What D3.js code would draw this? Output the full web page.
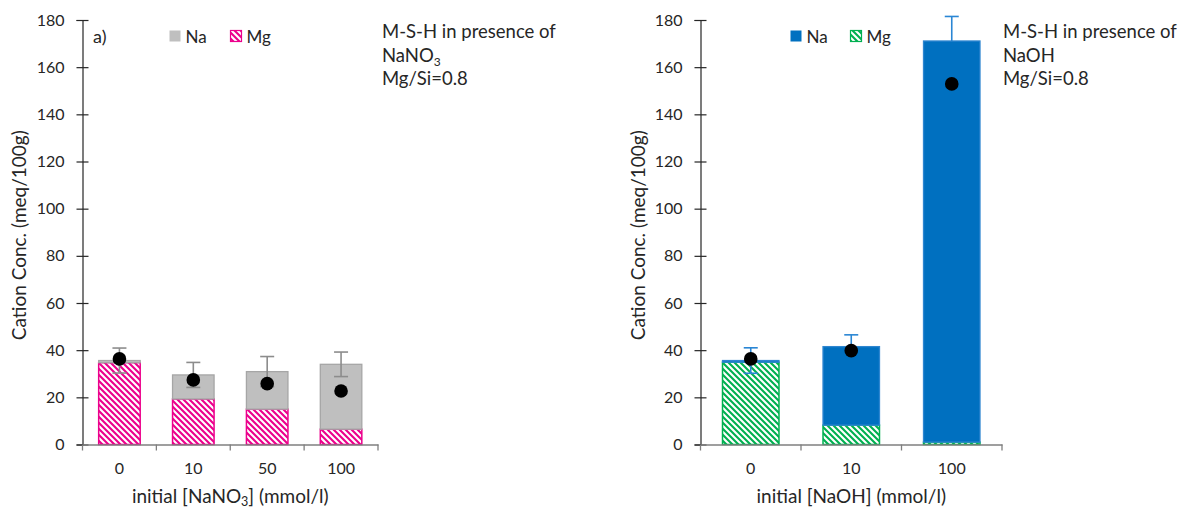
<!DOCTYPE html>
<html>
<head>
<meta charset="utf-8">
<script src="https://cdn.jsdelivr.net/npm/d3@7"></script>
<style>
  html, body { margin: 0; padding: 0; background: #fff; }
  svg { display: block; font-family: Lato, "Open Sans", sans-serif; }
</style>
</head>
<body>
<svg id="chart" width="1178" height="508"></svg>
<script>
// ---- Data ----
const yTicks = [0, 20, 40, 60, 80, 100, 120, 140, 160, 180];

// Panel a) NaNO3
const catsA = ["0", "10", "50", "100"];
const mgA = [34.7, 19.3, 15.0, 6.5];
const naA = [0.9, 10.2, 15.9, 27.5];
const errA = [5.3, 5.3, 6.4, 5.2];
const dotA = [36.3, 27.4, 25.8, 22.7];

// Panel b) NaOH
const catsB = ["0", "10", "100"];
const mgB = [34.9, 8.2, 1.0];
const naB = [0.7, 33.3, 170.1];
const errB = [5.4, 5.0, 10.4];
const dotB = [36.3, 39.8, 152.9];

const seriesNames = ["Na", "Mg"];

const svg = d3.select("#chart");
const defs = svg.append("defs");

function hatch(id, color) {
  const p = defs.append("pattern")
    .attr("id", id).attr("patternUnits", "userSpaceOnUse")
    .attr("width", 6).attr("height", 6);
  p.append("rect").attr("width", 6).attr("height", 6).attr("fill", "#fff");
  p.append("path")
    .attr("d", "M0,0 L6,6 M-3,3 L3,9 M3,-3 L9,3")
    .attr("stroke", color).attr("stroke-width", 2.1);
}
hatch("hatchPink", "#EC008C");
hatch("hatchGreen", "#00B050");

function drawPanel(cfg) {
  const g = svg.append("g");
  const y = d3.scaleLinear().domain([0, 180]).range([444.5, 20]);
  const x = d3.scaleBand().domain(cfg.cats).range([cfg.x0, cfg.x1])
    .paddingInner(0.438).paddingOuter(0.219);

  // Y axis
  const ya = g.append("g").attr("transform", `translate(${cfg.x0},0)`)
    .call(d3.axisLeft(y).tickValues(yTicks).tickSize(6).tickPadding(12));
  ya.select(".domain").attr("stroke", "#262626").attr("stroke-width", 1.2);
  ya.selectAll(".tick line").attr("x1", 6).attr("x2", -6).attr("stroke", "#262626").attr("stroke-width", 1.2);
  ya.selectAll(".tick text").attr("font-size", 16).attr("fill", "#262626")
    .attr("font-family", "Lato, sans-serif");

  const rows = cfg.cats.map((c, i) => ({ c, mg: cfg.mg[i], na: cfg.na[i], err: cfg.err[i], dot: cfg.dot[i] }));
  const bw = x.bandwidth();

  const barsG = g.append("g");
  const errG = g.append("g");
  const naG = cfg.errOnTop ? barsG : g.append("g");
  if (cfg.errOnTop) errG.raise();

  // Mg bars
  barsG.selectAll(".mg").data(rows).enter().append("rect")
    .attr("x", d => x(d.c)).attr("width", bw)
    .attr("y", d => y(d.mg)).attr("height", d => y(0) - y(d.mg))
    .attr("fill", cfg.mgFill).attr("stroke", cfg.mgStroke).attr("stroke-width", 1.5);
  // Na bars (stacked)
  naG.selectAll(".na").data(rows).enter().append("rect")
    .attr("x", d => x(d.c)).attr("width", bw)
    .attr("y", d => y(d.mg + d.na)).attr("height", d => y(d.mg) - y(d.mg + d.na))
    .attr("fill", cfg.naFill).attr("stroke", cfg.naStroke).attr("stroke-width", 1.3);

  // Error bars (around stacked total)
  const cap = 7;
  const eb = errG.selectAll(".err").data(rows).enter().append("g")
    .attr("stroke", cfg.errColor).attr("stroke-width", 1.6).attr("fill", "none");
  eb.append("line")
    .attr("x1", d => x(d.c) + bw / 2).attr("x2", d => x(d.c) + bw / 2)
    .attr("y1", d => y(d.mg + d.na + d.err)).attr("y2", d => y(d.mg + d.na - d.err));
  eb.append("line")
    .attr("x1", d => x(d.c) + bw / 2 - cap).attr("x2", d => x(d.c) + bw / 2 + cap)
    .attr("y1", d => y(d.mg + d.na + d.err)).attr("y2", d => y(d.mg + d.na + d.err));
  eb.append("line")
    .attr("x1", d => x(d.c) + bw / 2 - cap).attr("x2", d => x(d.c) + bw / 2 + cap)
    .attr("y1", d => y(d.mg + d.na - d.err)).attr("y2", d => y(d.mg + d.na - d.err));

  // X axis
  const xa = g.append("g").attr("transform", `translate(0,${y(0)})`)
    .call(d3.axisBottom(x).tickSize(0).tickPadding(18));
  xa.select(".domain").attr("stroke", "#7f7f7f").attr("stroke-width", 1.3);
  xa.selectAll(".tick text").attr("font-size", 16).attr("fill", "#262626")
    .attr("font-family", "Lato, sans-serif");
  const bounds = d3.range(cfg.cats.length + 1).map(i => cfg.x0 + i * x.step());
  xa.selectAll(".bnd").data(bounds).enter().append("line")
    .attr("x1", d => d).attr("x2", d => d).attr("y1", 0).attr("y2", 6)
    .attr("stroke", "#7f7f7f").attr("stroke-width", 1.3);

  // Dots
  g.selectAll(".dot").data(rows).enter().append("circle")
    .attr("cx", d => x(d.c) + bw / 2).attr("cy", d => y(d.dot)).attr("r", 6.8)
    .attr("fill", "#000");

  // Y axis title
  g.append("text")
    .attr("transform", `translate(${cfg.ytx},${(y(0) + y(180)) / 2 + 3}) rotate(-90)`)
    .attr("text-anchor", "middle").attr("dominant-baseline", "central")
    .attr("font-size", 19).attr("fill", "#262626")
    .text("Cation Conc. (meq/100g)");

  // X axis title
  const xt = g.append("text")
    .attr("x", (cfg.x0 + cfg.x1) / 2).attr("y", 503)
    .attr("text-anchor", "middle").attr("font-size", 19).attr("fill", "#262626");
  cfg.xTitle.forEach(p => {
    const t = xt.append("tspan").text(p.t);
    if (p.sub) t.attr("font-size", 12.5).attr("dy", 3);
    else if (p.after) t.attr("dy", -3);
  });

  // Legend
  const lg = g.append("g");
  [cfg.naFill, cfg.mgFill].forEach((f, i) => {
    lg.append("rect").attr("x", cfg.legX[i]).attr("y", 30.5).attr("width", 11).attr("height", 11)
      .attr("fill", f).attr("stroke", i === 0 ? "none" : cfg.mgStroke).attr("stroke-width", 1.2);
    lg.append("text").attr("x", cfg.legX[i] + 16).attr("y", 42.5)
      .attr("font-size", 17).attr("fill", "#262626").text(seriesNames[i]);
  });

  // Annotation
  const an = g.append("text").attr("x", cfg.annX).attr("font-size", 18.5).attr("fill", "#262626");
  an.append("tspan").attr("x", cfg.annX).attr("y", 37.5).text("M-S-H in presence of");
  const l2 = an.append("tspan").attr("x", cfg.annX).attr("y", 61.5);
  cfg.annLine2.forEach(p => {
    const t = l2.append("tspan").text(p.t);
    if (p.sub) t.attr("font-size", 12).attr("dy", 4);
  });
  an.append("tspan").attr("x", cfg.annX).attr("y", 84.5).text("Mg/Si=0.8");

  if (cfg.label) {
    g.append("text").attr("x", 93).attr("y", 43).attr("font-size", 18).attr("fill", "#262626").text(cfg.label);
  }
}

drawPanel({
  cats: catsA, mg: mgA, na: naA, err: errA, dot: dotA,
  x0: 82.5, x1: 378, ytx: 18, errOnTop: true,
  naFill: "#BFBFBF", naStroke: "#A6A6A6",
  mgFill: "url(#hatchPink)", mgStroke: "#EC008C",
  errColor: "#8C8C8C",
  xTitle: [{ t: "initial [NaNO" }, { t: "3", sub: true }, { t: "] (mmol/l)", after: true }],
  legX: [169.5, 230.5],
  annX: 382, annLine2: [{ t: "NaNO" }, { t: "3", sub: true }],
  label: "a)"
});

drawPanel({
  cats: catsB, mg: mgB, na: naB, err: errB, dot: dotB,
  x0: 700.5, x1: 1002, ytx: 637, errOnTop: false,
  naFill: "#0070C0", naStroke: "#2E86D0",
  mgFill: "url(#hatchGreen)", mgStroke: "#00B050",
  errColor: "#2A86D4",
  xTitle: [{ t: "initial [NaOH] (mmol/l)" }],
  legX: [790.5, 850.5],
  annX: 1003, annLine2: [{ t: "NaOH" }]
});
</script>
</body>
</html>
